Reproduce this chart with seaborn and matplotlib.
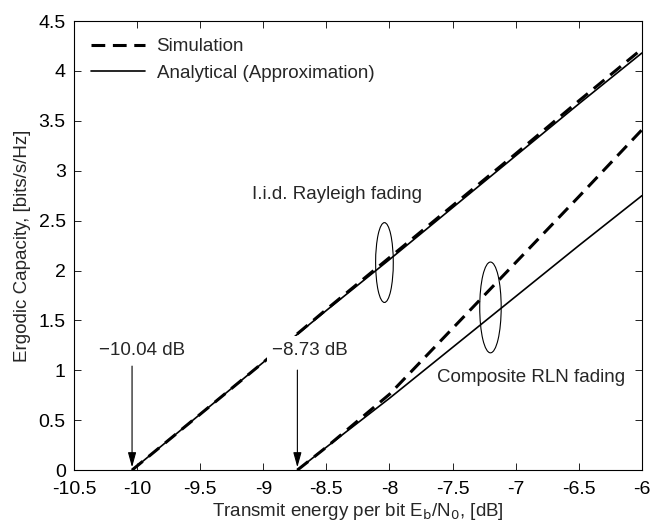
import numpy as np
import pandas as pd
import seaborn as sns
import matplotlib.pyplot as plt
from matplotlib.patches import Ellipse

# values
ray_x = [-10.04, -9.5, -9.0, -8.5, -8.0, -7.5, -7.0, -6.5, -6.0]
ray_sim = [0.0, 0.56, 1.08, 1.61, 2.13, 2.65, 3.17, 3.70, 4.22]
ray_ana = [0.0, 0.56, 1.08, 1.60, 2.11, 2.63, 3.15, 3.67, 4.18]

rln_x = [-8.73, -8.5, -8.0, -7.5, -7.0, -6.5, -6.0]
rln_sim = [0.0, 0.23, 0.76, 1.42, 2.08, 2.74, 3.41]
rln_ana = [0.0, 0.23, 0.72, 1.23, 1.74, 2.25, 2.75]

xticks = [-10.5, -10, -9.5, -9, -8.5, -8, -7.5, -7, -6.5, -6]
xtick_labels = ['-10.5', '-10', '-9.5', '-9', '-8.5', '-8', '-7.5', '-7', '-6.5', '-6']
yticks = [0, 0.5, 1, 1.5, 2, 2.5, 3, 3.5, 4, 4.5]
ytick_labels = ['0', '0.5', '1', '1.5', '2', '2.5', '3', '3.5', '4', '4.5']

sns.set_style("ticks")
plt.rcParams['font.family'] = ['Liberation Sans', 'DejaVu Sans']
fs = 13.5

fig = plt.figure(figsize=(6.52, 5.27), dpi=100)
ax = fig.add_axes([0.1135, 0.108, 0.871, 0.852])

ray = pd.DataFrame({'x': ray_x, 'sim': ray_sim, 'ana': ray_ana})
rln = pd.DataFrame({'x': rln_x, 'sim': rln_sim, 'ana': rln_ana})

sns.lineplot(data=ray, x='x', y='sim', ax=ax, color='black', lw=2.2,
             label='Simulation', zorder=3).lines[-1].set_dashes([4.5, 2.5])
sns.lineplot(data=ray, x='x', y='ana', ax=ax, color='black', lw=1.2,
             label='Analytical (Approximation)', zorder=3)
sns.lineplot(data=rln, x='x', y='sim', ax=ax, color='black', lw=2.2, zorder=3).lines[-1].set_dashes([4.5, 2.5])
sns.lineplot(data=rln, x='x', y='ana', ax=ax, color='black', lw=1.2, zorder=3)

ax.set_xlim(-10.5, -6)
ax.set_ylim(0, 4.5)
ax.set_xticks(xticks)
ax.set_xticklabels(xtick_labels)
ax.set_yticks(yticks)
ax.set_yticklabels(ytick_labels)
ax.tick_params(direction='in', top=True, right=True, labelsize=14, length=5, width=0.6, colors='black')
ax.tick_params(axis='x', pad=7.5)
ax.tick_params(axis='y', pad=6)
for s in ax.spines.values():
    s.set_visible(True)
    s.set_linewidth(0.8)
    s.set_color('black')

ax.set_xlabel('Transmit energy per bit E$_\\mathrm{b}$/N$_\\mathrm{0}$, [dB]', fontsize=fs, labelpad=2.5)
ax.set_ylabel('Ergodic Capacity, [bits/s/Hz]', fontsize=fs, labelpad=5)

ax.legend(loc='upper left', frameon=False, fontsize=fs, handlelength=2.9,
          handletextpad=0.6, borderaxespad=0.5, labelspacing=0.5)

# threshold arrows
arrow = dict(arrowstyle='-|>,head_length=0.9,head_width=0.25', color='black', lw=0.8)
ax.annotate('', xy=(-10.04, 0.0), xytext=(-10.04, 1.07), arrowprops=arrow)
ax.text(-10.30, 1.2, '\u221210.04 dB', fontsize=fs, ha='left', va='center')
ax.annotate('', xy=(-8.73, 0.0), xytext=(-8.73, 1.03), arrowprops=arrow)
ax.text(-8.93, 1.2, '\u22128.73 dB', fontsize=fs, ha='left', va='center', zorder=5,
        bbox=dict(facecolor='white', edgecolor='none', pad=4))

# ellipses and labels
ax.add_patch(Ellipse((-8.04, 2.08), 0.14, 0.80, fill=False, ec='black', lw=0.8, zorder=4))
ax.add_patch(Ellipse((-7.20, 1.63), 0.17, 0.91, fill=False, ec='black', lw=0.8, zorder=4))
ax.text(-7.74, 2.76, 'I.i.d. Rayleigh fading', fontsize=fs, ha='right', va='center')
ax.text(-7.62, 0.93, 'Composite RLN fading', fontsize=fs, ha='left', va='center')

plt.savefig('out.png', dpi=100)
